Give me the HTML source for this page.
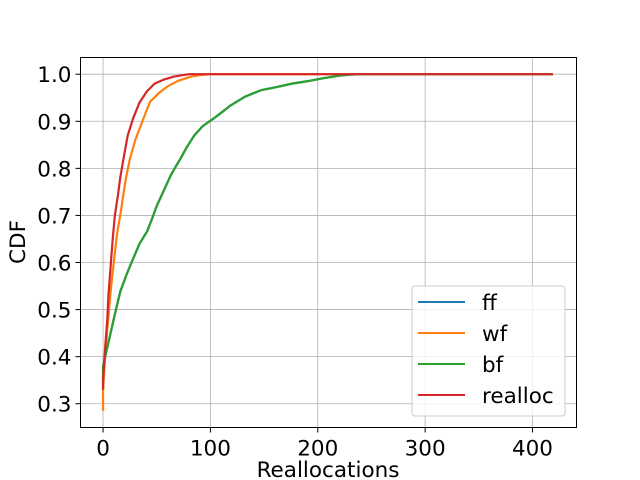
<!DOCTYPE html>
<html><head><meta charset="utf-8"><style>
body{margin:0;background:#fff}
svg{display:block;font-family:"DejaVu Sans","Liberation Sans",sans-serif}
</style></head><body>
<svg width="640" height="480" viewBox="0 0 640 480">
<g id="grid"></g>
<g id="series"></g>
<rect x="80.5" y="57.5" width="496" height="370" fill="none" stroke="#000" stroke-width="1"/>
<g id="ticks"></g>
<text x="328" y="477" font-size="21.5" text-anchor="middle">Reallocations</text>
<text transform="translate(25,242) rotate(-90)" font-size="21.5" text-anchor="middle">CDF</text>
<g>
<rect x="412" y="286" width="153" height="130" rx="3" fill="#fff" fill-opacity="0.8" stroke="#ccc"/>
<g id="legend"></g>
</g>
</svg>
<script>
const xTicks=[0,100,200,300,400];
const yTicks=[0.3,0.4,0.5,0.6,0.7,0.8,0.9,1.0];
const names=["ff","wf","bf","realloc"];
const colors=["#1f77b4","#ff7f0e","#2ca02c","#d62728"];
const bfX=[0,0,3,7,11,16,22,28,34,41,46,50,56,63,68,72,78,85,93,103,110,119,132,147,160,176,190,204,212,220,230,240,419];
const bfY=[0.33,0.38,0.41,0.45,0.49,0.538,0.575,0.608,0.64,0.666,0.695,0.72,0.75,0.785,0.805,0.82,0.845,0.87,0.89,0.906,0.918,0.934,0.952,0.966,0.972,0.98,0.985,0.991,0.994,0.997,0.999,1.0,1.0];
const wfX=[0,0,2,4,6,8,10,13,16,18,21,25,30,35,40,44,52,60,70,82,90,100,419];
const wfY=[0.285,0.33,0.40,0.46,0.51,0.56,0.60,0.66,0.70,0.73,0.775,0.82,0.86,0.89,0.92,0.942,0.96,0.974,0.986,0.995,0.998,1.0,1.0];
const reX=[0,0,2,4,5,7,9,11,14,16,19,23,28,34,41,48,56,66,80,419];
const reY=[0.33,0.35,0.42,0.48,0.53,0.59,0.65,0.70,0.745,0.78,0.82,0.87,0.906,0.94,0.964,0.98,0.988,0.995,1.0,1.0];
const seriesX=[bfX,wfX,bfX,reX];
const seriesY=[bfY,wfY,bfY,reY];
const X0=80.5,X1=576.5,Y0=57.5,Y1=427.5;
const xmin=-21,xmax=441,ymin=0.2495,ymax=1.0355;
const sx=v=>X0+(v-xmin)/(xmax-xmin)*(X1-X0);
const sy=v=>Y1-(v-ymin)/(ymax-ymin)*(Y1-Y0);
const NS="http://www.w3.org/2000/svg";
function mk(t,a,p){const e=document.createElementNS(NS,t);for(const k in a)e.setAttribute(k,a[k]);p.appendChild(e);return e;}
const grid=document.getElementById('grid'),ticks=document.getElementById('ticks');
xTicks.forEach(t=>{const x=sx(t);
const g=mk('line',{x1:x,x2:x,y1:Y0,y2:Y1,stroke:'#b0b0b0','stroke-width':0.8},grid);


const tk=mk('line',{x1:x,x2:x,y1:Y1,y2:Y1+5,stroke:'#000'},ticks);


const tx=mk('text',{x:x,y:Y1+28,'font-size':21.5,'text-anchor':'middle'},ticks);tx.textContent=t;

});
yTicks.forEach(t=>{const y=sy(t);
const g=mk('line',{x1:X0,x2:X1,y1:y,y2:y,stroke:'#b0b0b0','stroke-width':0.8},grid);


const tk=mk('line',{x1:X0-5,x2:X0,y1:y,y2:y,stroke:'#000'},ticks);


const tx=mk('text',{x:X0-9,y:y+8,'font-size':21.5,'text-anchor':'end'},ticks);tx.textContent=t.toFixed(1);

});
const ser=document.getElementById('series');
[0,1,2,3].forEach(i=>{const pts=seriesX[i].map((v,j)=>sx(v)+','+sy(seriesY[i][j])).join(' ');
const l=mk('polyline',{points:pts,fill:'none',stroke:colors[i],'stroke-width':2.2,'stroke-linejoin':'round'},ser);

});
const lg=document.getElementById('legend');
names.forEach((n,i)=>{const y=302+i*31;
const l=mk('line',{x1:418,x2:465,y1:y,y2:y,stroke:colors[i],'stroke-width':2},lg);


const t=mk('text',{x:482,y:y+8,'font-size':21.5},lg);t.textContent=n;

});
</script>
</body></html>
